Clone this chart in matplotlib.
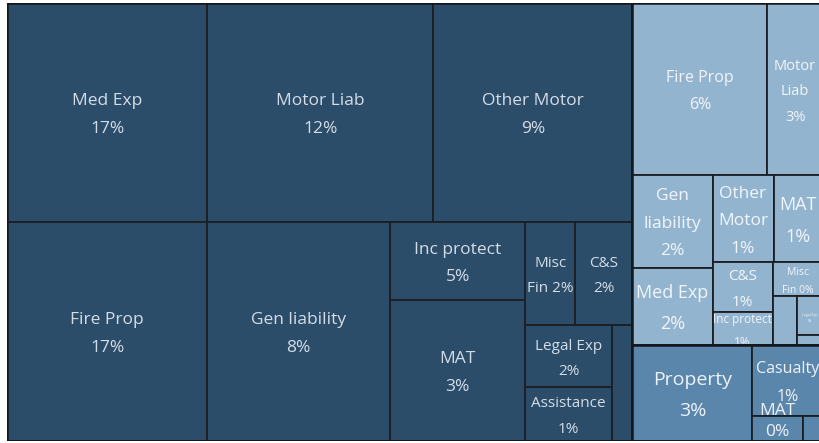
import matplotlib
matplotlib.use("Agg")
import matplotlib.pyplot as plt
from matplotlib.patches import Rectangle

plt.rcParams['font.family'] = ['Open Sans', 'DejaVu Sans']

# ---------------- data ----------------
group_names = ["Group A", "Group B", "Group C"]

# Group A (dark)
a_names = ["Med Exp", "Fire Prop", "Motor Liab", "Other Motor", "Gen liability",
           "Inc protect", "MAT", "Misc\nFin {}", "C&S", "Legal Exp", "Assistance", ""]
a_sizes = [438, 438, 495, 436, 401, 105, 190, 52, 59, 54, 47, 23]
a_pct = [17, 17, 12, 9, 8, 5, 3, 2, 2, 2, 1, None]

# Group B (light)
b_names = ["Fire Prop", "Motor\nLiab", "Gen\nliability", "Med Exp", "Other\nMotor",
           "MAT", "C&S", "Inc protect", "Misc\nFin {}", "", "Legal Exp", ""]
b_sizes = [232, 96, 74, 62, 53, 43, 30, 20, 17, 12, 10, 2.6]
b_pct = [6, 3, 2, 2, 1, 1, 1, 1, 0, None, 0, None]

# Group C (medium)
c_names = ["Property", "Casualty", "MAT", ""]
c_sizes = [115, 50, 12.8, 5]
c_pct = [3, 1, 0, None]

# ---------------- layout structure (rows: item count, orientation) ----------------
a_rows = [(2, 'v'), (2, 'h'), (1, 'v'), (2, 'v'), (2, 'h'), (2, 'v'), (1, 'v')]
b_rows = [(2, 'h'), (2, 'v'), (2, 'h'), (2, 'v'), (1, 'h'), (1, 'v'), (1, 'h'), (1, 'h')]
c_rows = [(1, 'v'), (1, 'h'), (1, 'v'), (1, 'v')]
top_rows = [(1, 'v'), (1, 'h'), (1, 'h')]

# ---------------- styles ----------------
fills = ["#2c4d6a", "#93b4cf", "#5b86ac"]
text_colors = ["#d3dde7", "#f2f6fa", "#edf2f8"]
a_fs = [12.5, 12.5, 12.5, 12.5, 12.5, 12.5, 12.5, 11, 11, 11, 11, 10]
b_fs = [11.5, 10.5, 12.5, 13, 12.5, 13, 11, 8.5, 7.5, 6, 2.5, 2]
c_fs = [14, 11.5, 12.5, 6]
LS = 1.95
SHIFT = 2.5


def layout(sizes, rows, x, y, w, h):
    scale = w * h / sum(sizes)
    rects = []
    i = 0
    for count, orient in rows:
        items = sizes[i:i + count]
        s = sum(items) * scale
        if orient == 'v':
            cw = s / h
            yy = y
            for v in items:
                ih = v * scale / cw
                rects.append((x, yy, cw, ih))
                yy += ih
            x += cw
            w -= cw
        else:
            rh = s / w
            xx = x
            for v in items:
                iw = v * scale / rh
                rects.append((xx, y, iw, rh))
                xx += iw
            y += rh
            h -= rh
        i += count
    return rects


W, H = 816.0, 438.0
fig = plt.figure(figsize=(8.19, 4.43), dpi=100)
fig.patch.set_facecolor("white")
ax = fig.add_axes([7 / 819, 2 / 443, W / 819, H / 443])
ax.set_xlim(0, W)
ax.set_ylim(H, 0)
ax.axis("off")

groups = [(a_names, a_sizes, a_pct, a_rows, a_fs),
          (b_names, b_sizes, b_pct, b_rows, b_fs),
          (c_names, c_sizes, c_pct, c_rows, c_fs)]
group_totals = [sum(g[1]) for g in groups]
group_rects = layout(group_totals, top_rows, 0, 0, W, H)

for gi, ((names, sizes, pcts, rows, fss), grect) in enumerate(zip(groups, group_rects)):
    z = 10 * (gi + 1)
    gx, gy, gw, gh = grect
    cells = layout(sizes, rows, gx, gy, gw, gh)
    for (x, y, w, h), name, p, fs in zip(cells, names, pcts, fss):
        ax.add_patch(Rectangle((x, y), w, h, facecolor=fills[gi],
                               edgecolor="#1b1f24", linewidth=1.3, zorder=z))
        if p is None or not name:
            continue
        if "{}" in name:
            label = name.format(f"{p}%")
        else:
            label = f"{name}\n{p}%"
        nlines = label.count("\n") + 1
        lh = fs * 100 / 72
        th = lh * (1 + (nlines - 1) * LS * 0.85)
        cy = y + h / 2 + (SHIFT if h > 30 else 0)
        kw = dict(va="center", linespacing=LS)
        if cy + th / 2 > H + 2:
            # keep labels of cells at the bottom edge inside the chart
            cy = H - 0.5
            kw = dict(va="bottom", linespacing=1.45)
        ax.text(x + w / 2, cy, label, ha="center", color=text_colors[gi],
                fontsize=fs, zorder=z + 1, clip_on=False, **kw)
    ax.add_patch(Rectangle((gx, gy), gw, gh, facecolor="none",
                           edgecolor="#14171a", linewidth=1.8, zorder=z + 2))

fig.savefig("out.png", dpi=100)
